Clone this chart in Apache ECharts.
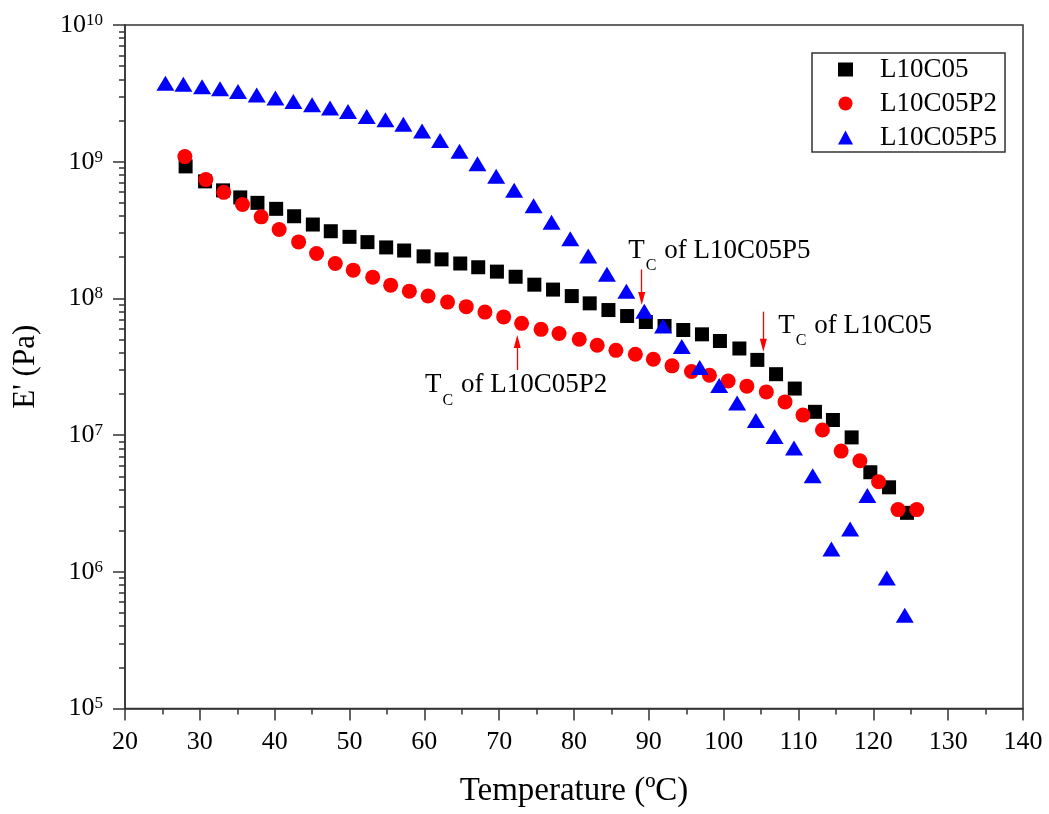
<!DOCTYPE html>
<html>
<head>
<meta charset="utf-8">
<script src="https://cdn.jsdelivr.net/npm/echarts@6/dist/echarts.min.js"></script>
<style>
  html, body { margin: 0; padding: 0; background: #fff; }
  #chart { width: 1049px; height: 814px; }
</style>
</head>
<body>
<div id="chart"></div>
<script>
// Storage modulus E' (Pa) versus temperature (°C) for three samples
const seriesNames = ['L10C05', 'L10C05P2', 'L10C05P5'];

const tempL10C05 = [28.1, 30.7, 33.1, 35.4, 37.7, 40.2, 42.6, 45.1, 47.5, 50.0, 52.4, 54.9, 57.3, 59.9, 62.3, 64.8, 67.2, 69.7, 72.2, 74.7,
  77.2, 79.7, 82.1, 84.6, 87.1, 89.6, 92.1, 94.6, 97.1, 99.5, 102.1, 104.5, 107.0, 109.5, 112.2, 114.6, 117.1, 119.6, 122.1, 124.5];
const modL10C05 = [9.24e8, 7.18e8, 6.17e8, 5.48e8, 5.00e8, 4.52e8, 3.99e8, 3.47e8, 3.10e8, 2.82e8, 2.58e8, 2.36e8, 2.24e8, 2.03e8, 1.93e8, 1.80e8, 1.69e8, 1.57e8, 1.44e8, 1.26e8,
  1.16e8, 1.04e8, 9.20e7, 8.22e7, 7.43e7, 6.72e7, 6.28e7, 5.87e7, 5.46e7, 4.88e7, 4.30e7, 3.55e7, 2.79e7, 2.19e7, 1.48e7, 1.29e7, 9.62e6, 5.35e6, 4.15e6, 2.70e6];

const tempL10C05P2 = [28.0, 30.8, 33.2, 35.7, 38.2, 40.6, 43.2, 45.6, 48.1, 50.5, 53.1, 55.5, 58.0, 60.5, 63.1, 65.6, 68.1, 70.6, 73.0, 75.6,
  78.0, 80.7, 83.1, 85.6, 88.2, 90.6, 93.1, 95.7, 98.1, 100.6, 103.1, 105.7, 108.2, 110.6, 113.2, 115.7, 118.2, 120.7, 123.3, 125.8];
const modL10C05P2 = [1.09e9, 7.40e8, 5.97e8, 4.86e8, 3.95e8, 3.19e8, 2.59e8, 2.13e8, 1.80e8, 1.61e8, 1.43e8, 1.25e8, 1.13e8, 1.04e8, 9.40e7, 8.70e7, 7.94e7, 7.32e7, 6.57e7, 5.94e7,
  5.53e7, 5.02e7, 4.54e7, 4.17e7, 3.90e7, 3.59e7, 3.21e7, 2.92e7, 2.74e7, 2.49e7, 2.28e7, 2.07e7, 1.75e7, 1.40e7, 1.09e7, 7.64e6, 6.49e6, 4.56e6, 2.85e6, 2.85e6];

const tempL10C05P5 = [25.4, 27.8, 30.3, 32.7, 35.1, 37.6, 40.1, 42.5, 45.0, 47.4, 49.8, 52.3, 54.8, 57.2, 59.7, 62.1, 64.7, 67.1, 69.6, 72.0,
  74.6, 77.0, 79.5, 81.9, 84.4, 87.0, 89.4, 91.9, 94.4, 96.8, 99.4, 101.8, 104.3, 106.8, 109.4, 111.9, 114.4, 116.9, 119.2, 121.8, 124.2];
const modL10C05P5 = [3.75e9, 3.68e9, 3.54e9, 3.41e9, 3.26e9, 3.08e9, 2.92e9, 2.76e9, 2.61e9, 2.47e9, 2.33e9, 2.14e9, 2.03e9, 1.88e9, 1.68e9, 1.43e9, 1.19e9, 9.67e8, 7.81e8, 6.17e8,
  4.77e8, 3.61e8, 2.73e8, 2.04e8, 1.50e8, 1.13e8, 8.07e7, 6.28e7, 4.44e7, 3.12e7, 2.31e7, 1.72e7, 1.28e7, 9.75e6, 8.04e6, 5.05e6, 1.47e6, 2.06e6, 3.61e6, 9.00e5, 4.81e5];

// Axis ranges and ticks
const xTicks = [20, 30, 40, 50, 60, 70, 80, 90, 100, 110, 120, 130, 140];
const yDecades = [1e5, 1e6, 1e7, 1e8, 1e9, 1e10];

// Crystallization temperature markers: sample, Tc (°C), arrow tail and head moduli, label anchor
const tcSamples = ['L10C05P5', 'L10C05', 'L10C05P2'];
const tcTemps = [89.05, 105.3, 72.42];
const tcArrowFrom = [1.63e8, 8.0e7, 2.99e7];
const tcArrowTo = [9.98e7, 4.55e7, 4.84e7];
const tcLabelTemp = [87.26, 107.3, 60.09];
const tcLabelMod = [2.81e8, 7.94e7, 2.90e7];

const FONT = "'Liberation Serif', 'Times New Roman', serif";

// log-spaced minor tick values (2..9 × 10^n)
const minorY = [];
for (let d = 0; d < yDecades.length - 1; d++) {
  for (let k = 2; k <= 9; k++) minorY.push(k * yDecades[d]);
}

const zip = (xs, ys) => xs.map((x, i) => [x, ys[i]]);

const chart = echarts.init(document.getElementById('chart'), null, { renderer: 'canvas' });

const axisLineStyle = { color: '#333', width: 1.5 };

const option = {
  backgroundColor: '#fff',
  animation: false,
  grid: {
    left: 125, right: 26, top: 25, bottom: 105.5,
    show: true, borderColor: '#333', borderWidth: 1.5, backgroundColor: 'transparent'
  },
  legend: {
    data: seriesNames,
    orient: 'vertical',
    left: 812, top: 53,
    backgroundColor: '#fff',
    borderColor: '#333', borderWidth: 1.5, borderRadius: 0,
    padding: [3, 8, 1, 26],
    itemGap: 7,
    itemWidth: 15, itemHeight: 14,
    textStyle: { fontFamily: FONT, fontSize: 27, color: '#000', padding: [0, 0, 0, 22] }
  },
  xAxis: {
    type: 'value',
    min: xTicks[0], max: xTicks[xTicks.length - 1], interval: 10,
    name: 'Temperature (ºC)',
    nameLocation: 'middle', nameGap: 66,
    nameTextStyle: { fontFamily: FONT, fontSize: 33, color: '#000' },
    axisLine: { show: true, onZero: false, lineStyle: axisLineStyle },
    axisTick: { show: true, inside: false, length: 12, lineStyle: axisLineStyle },
    minorTick: { show: true, splitNumber: 2, length: 6, lineStyle: axisLineStyle },
    axisLabel: { fontFamily: FONT, fontSize: 26, color: '#000', margin: 21 },
    splitLine: { show: false }
  },
  yAxis: [
    {
      type: 'log', logBase: 10,
      min: yDecades[0], max: yDecades[yDecades.length - 1],
      name: "E' (Pa)",
      nameLocation: 'middle', nameGap: 84,
      nameTextStyle: { fontFamily: FONT, fontSize: 31, color: '#000' },
      axisLine: { show: true, onZero: false, lineStyle: axisLineStyle },
      axisTick: { show: true, inside: false, length: 12, lineStyle: axisLineStyle },
      axisLabel: {
        margin: 22,
        formatter: v => '{b|10}{s|' + Math.round(Math.log10(v)) + '}',
        rich: {
          b: { fontFamily: FONT, fontSize: 26, lineHeight: 26, color: '#000', verticalAlign: 'top' },
          s: { fontFamily: FONT, fontSize: 17, lineHeight: 17, color: '#000', verticalAlign: 'top' }
        }
      },
      splitLine: { show: false }
    },
    {
      type: 'log', logBase: 10,
      min: yDecades[0], max: yDecades[yDecades.length - 1],
      position: 'left',
      axisLine: { show: false },
      axisTick: { show: true, inside: false, length: 6, customValues: minorY, lineStyle: axisLineStyle },
      axisLabel: { show: false },
      splitLine: { show: false }
    }
  ],
  series: [
    {
      name: seriesNames[0], type: 'scatter', yAxisIndex: 0,
      symbol: 'rect', symbolSize: 14,
      itemStyle: { color: '#000000', opacity: 1 },
      data: zip(tempL10C05, modL10C05)
    },
    {
      name: seriesNames[1], type: 'scatter', yAxisIndex: 0,
      symbol: 'circle', symbolSize: 15,
      itemStyle: { color: '#ff0000', opacity: 1 },
      data: zip(tempL10C05P2, modL10C05P2)
    },
    {
      name: seriesNames[2], type: 'scatter', yAxisIndex: 0,
      symbol: 'triangle', symbolSize: [18, 15],
      itemStyle: { color: '#0000ff', opacity: 1 },
      data: zip(tempL10C05P5, modL10C05P5),
      markLine: {
        silent: true,
        symbol: ['none', 'triangle'],
        symbolSize: [7, 13],
        label: { show: false },
        lineStyle: { color: '#ff0000', width: 1.3, type: 'solid' },
        emphasis: { disabled: true },
        data: tcTemps.map((t, i) => [
          { coord: [t, tcArrowFrom[i]] },
          { coord: [t, tcArrowTo[i]] }
        ])
      }
    }
  ]
};

chart.setOption(option);

// Tc labels with subscript C, anchored in data space
const labelStyle = {
  t: { fontFamily: FONT, fontSize: 27, lineHeight: 27, fill: '#000', verticalAlign: 'top' },
  c: { fontFamily: FONT, fontSize: 16, lineHeight: 16, fill: '#000', verticalAlign: 'top', padding: [21, 1, 0, 1] }
};
chart.setOption({
  graphic: tcSamples.map((name, i) => {
    const p = chart.convertToPixel({ gridIndex: 0 }, [tcLabelTemp[i], tcLabelMod[i]]);
    return {
      type: 'text', x: p[0], y: p[1], silent: true, z: 100,
      style: {
        text: '{t|T}{c|C}{t| of ' + name + '}',
        rich: labelStyle,
        align: 'left', verticalAlign: 'top'
      }
    };
  })
});
</script>
</body>
</html>
